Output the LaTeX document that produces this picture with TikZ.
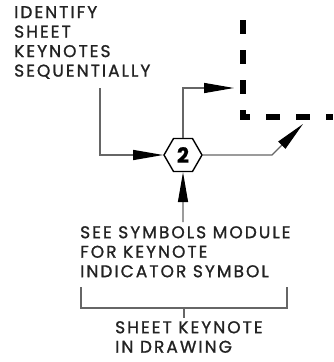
\documentclass[tikz,border=0pt]{standalone}
\usepackage{fontspec}
\setmainfont{Poppins}[LetterSpace=12, FakeBold=1.2]
\newfontfamily\hexfont{Poppins}[FakeBold=1]
\usetikzlibrary{arrows.meta,shapes.geometric}
\definecolor{ink}{HTML}{222222}
\definecolor{wire}{HTML}{666666}
\tikzset{
  label/.style={font=\fontsize{17}{19.5}\selectfont, text=ink, align=left, inner sep=0pt, anchor=north west},
  conn/.style={draw=wire, line width=1.3pt},
  tip/.style={-{Triangle[length=30pt,width=10pt,color=black]}},
  hexa/.style={regular polygon, regular polygon sides=6, minimum size=38pt, inner sep=0pt, draw=black, line width=1.4pt, font=\hexfont\fontsize{21}{21}\selectfont\bfseries},
  border/.style={draw=black, line width=5.5pt, dash pattern=on 14pt off 16pt}
}
\begin{document}
\begin{tikzpicture}[x=1pt,y=-1pt]
\useasboundingbox (0,0) rectangle (333,362);
\node[label] (top) at (14,6) {IDENTIFY\\SHEET\\KEYNOTES\\SEQUENTIALLY};
\node[label] (mid) at (80,226) {SEE SYMBOLS MODULE\\FOR KEYNOTE\\INDICATOR SYMBOL};
\node[label] (bot) at (115,321) {SHEET KEYNOTE\\IN DRAWING};
\node[hexa] (hex) at (183,155) {2};
\coordinate (a1) at (100,88);
\coordinate (b1) at (234,88);
\coordinate (d1) at (272,155);
\coordinate (d2) at (303,124);
\coordinate (u1) at (183,222);
\coordinate (w1) at (243,20);
\coordinate (w2) at (243,117);
\coordinate (w3) at (333,117);
\coordinate (k1) at (81,287);
\coordinate (k2) at (287,287);
\coordinate (k3) at (184,308);
\coordinate (k4) at (184,318);
\draw[border] (w1) -- (w2) -- (w3);
\draw[conn,tip] (a1) |- (hex.west);
\draw[conn,tip] (hex.north) |- (b1);
\draw[conn,tip] (hex.east) -- (d1) -- (d2);
\draw[conn,tip] (u1) -- (hex.south);
\draw[conn] (k1) -- (k1 |- k3) -- (k2 |- k3) -- (k2);
\draw[conn] (k3) -- (k4);
\end{tikzpicture}
\end{document}
